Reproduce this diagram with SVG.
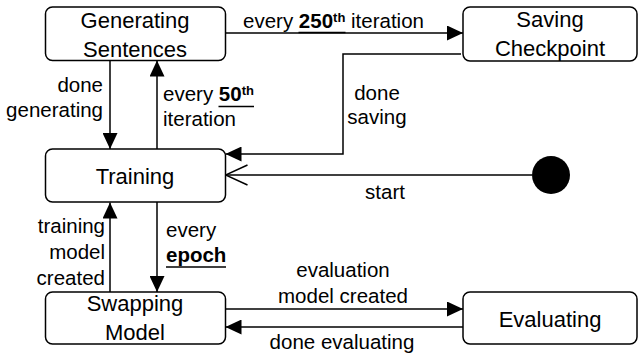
<svg xmlns="http://www.w3.org/2000/svg" width="639" height="356" viewBox="0 0 639 356">
<style>
.node rect{fill:#fff;stroke:#000;stroke-width:1.5}
.nt{font-family:"Liberation Sans",Arial,sans-serif;font-size:22px;fill:#000;text-anchor:middle}
.lb{font-family:"Liberation Sans",Arial,sans-serif;font-size:20.5px;fill:#000}
.c{text-anchor:middle}
.e{text-anchor:end}
.b{font-weight:bold}
.sup{font-weight:bold;font-size:13px}
#connectors path{fill:none;stroke:#000;stroke-width:1.5}
.ul{stroke:#000;stroke-width:1.5}
</style>
<defs>
<marker id="fa" markerUnits="userSpaceOnUse" markerWidth="16" markerHeight="15" refX="16" refY="7.5" orient="auto">
<path d="M0,0 L16,7.5 L0,15 z" fill="#000"/>
</marker>
<marker id="oa" markerUnits="userSpaceOnUse" markerWidth="24" markerHeight="24" refX="23" refY="11" orient="auto">
<path d="M1,1 L23,11 L1,21" fill="none" stroke="#000" stroke-width="1.5"/>
</marker>
</defs>
<rect width="639" height="356" fill="#fff"/>
<g id="connectors">
<path d="M110,60.5 V149" marker-end="url(#fa)"/>
<path d="M157,149 V60.5" marker-end="url(#fa)"/>
<path d="M225.5,33 H463" marker-end="url(#fa)"/>
<path d="M461,54 H343 V154 H225.5" marker-end="url(#fa)"/>
<path d="M532,175 H225.5" marker-end="url(#oa)"/>
<path d="M157,202 V292" marker-end="url(#fa)"/>
<path d="M110,292 V202.5" marker-end="url(#fa)"/>
<path d="M225.5,309 H463" marker-end="url(#fa)"/>
<path d="M463,327 H225.5" marker-end="url(#fa)"/>
</g>
<g id="labels">
<text class="lb" x="243" y="28">every <tspan class="b">250</tspan><tspan class="sup" dy="-6">th</tspan><tspan dy="6"> iteration</tspan></text>
<line class="ul" x1="298.5" y1="32.5" x2="345.5" y2="32.5"/>
<text class="lb e" x="103" y="92">done</text>
<text class="lb e" x="103" y="117">generating</text>
<text class="lb" x="163" y="101">every <tspan class="b">50</tspan><tspan class="sup" dy="-6">th</tspan></text>
<line class="ul" x1="218.5" y1="106.5" x2="254" y2="106.5"/>
<text class="lb" x="163" y="126">iteration</text>
<text class="lb c" x="377" y="100">done</text>
<text class="lb c" x="377" y="124">saving</text>
<text class="lb c" x="385" y="199">start</text>
<text class="lb e" x="105" y="233">training</text>
<text class="lb e" x="105" y="259">model</text>
<text class="lb e" x="105" y="285">created</text>
<text class="lb" x="166" y="237">every</text>
<text class="lb b" x="166" y="262">epoch</text>
<line class="ul" x1="166" y1="267" x2="226" y2="267"/>
<text class="lb c" x="343" y="277">evaluation</text>
<text class="lb c" x="343" y="303">model created</text>
<text class="lb c" x="342" y="349">done evaluating</text>
</g>
<g id="generating" class="node">
<rect x="45.5" y="7" width="180" height="53.5" rx="7"/>
<text class="nt" x="135" y="28">Generating</text>
<text class="nt" x="135" y="57">Sentences</text>
</g>
<g id="saving" class="node">
<rect x="463" y="7" width="174" height="54" rx="7"/>
<text class="nt" x="550" y="27">Saving</text>
<text class="nt" x="550" y="56">Checkpoint</text>
</g>
<g id="training" class="node">
<rect x="45.5" y="149" width="180" height="53" rx="7"/>
<text class="nt" x="135" y="184">Training</text>
</g>
<g id="swapping" class="node">
<rect x="45.5" y="292" width="180" height="52" rx="7"/>
<text class="nt" x="135" y="311">Swapping</text>
<text class="nt" x="135" y="340">Model</text>
</g>
<g id="evaluating" class="node">
<rect x="463" y="292" width="174" height="52" rx="7"/>
<text class="nt" x="550" y="327">Evaluating</text>
</g>
<g id="start">
<circle cx="551" cy="175" r="19" fill="#000"/>
</g>
</svg>
